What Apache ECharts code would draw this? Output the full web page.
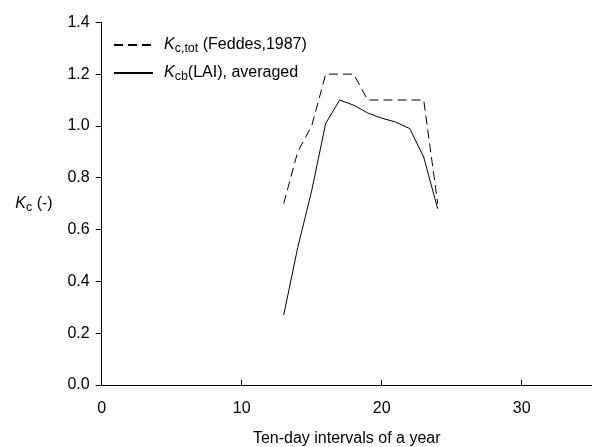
<!DOCTYPE html>
<html><head><meta charset="utf-8">
<script src="https://cdn.jsdelivr.net/npm/echarts@6/dist/echarts.min.js"></script>
<style>html,body{margin:0;padding:0;background:#fff}#c{width:592px;height:447px}</style>
</head><body><div id="c"></div>
<script>
const intervals = [13,14,15,16,17,18,19,20,21,22,23,24];
const kcTot = [0.70,0.90,1.00,1.20,1.20,1.20,1.10,1.10,1.10,1.10,1.10,0.70];
const kcbLai = [0.27,0.53,0.75,1.01,1.10,1.08,1.05,1.03,1.015,0.99,0.88,0.68];
const yTicks = [0,0.2,0.4,0.6,0.8,1.0,1.2,1.4];
const xTicks = [0,10,20,30];

const font = 'Liberation Sans, Arial, sans-serif';
const FS = 16;
const rich = {
  k: {fontStyle:'italic', fontSize:FS, fontFamily:font, color:'#000'},
  s: {fontSize:12.5, fontFamily:font, color:'#000', verticalAlign:'bottom', padding:[7,0,0,0]},
  t: {fontSize:FS, fontFamily:font, color:'#000'}
};
const chart = echarts.init(document.getElementById('c'));
chart.setOption({
  animation:false,
  grid:{left:101.7, right:0.3, top:22.3, bottom:62, outerBoundsMode:'none', containLabel:false},
  legend:{
    orient:'vertical', left:113, top:37, padding:0, itemGap:10,
    itemWidth:39, itemHeight:16,
    itemStyle:{opacity:0},
    data:[{name:'tot'},{name:'cb'}],
    formatter: n => n==='tot' ? '{k|K}{s|c,tot}{t| (Feddes,1987)}' : '{k|K}{s|cb}{t|(LAI), averaged}',
    textStyle:{rich:rich, fontFamily:font, fontSize:FS, color:'#000', padding:[0,0,0,6]}
  },
  xAxis:{
    type:'value', min:0, max:35, interval:10,
    name:'Ten-day intervals of a year', nameLocation:'middle', nameGap:46,
    nameTextStyle:{fontFamily:font, fontSize:FS, color:'#000'},
    axisLine:{lineStyle:{color:'#000', width:1}},
    axisTick:{inside:true, length:5, customValues:xTicks, lineStyle:{color:'#000'}},
    axisLabel:{fontFamily:font, fontSize:FS, color:'#000', margin:16, customValues:xTicks},
    splitLine:{show:false}
  },
  yAxis:{
    type:'value', min:0, max:1.4, interval:0.2,
    name:'{k|K}{s|c}{t| (-)}', nameLocation:'middle', nameGap:49, nameRotate:0,
    nameTextStyle:{rich:rich},
    axisLine:{show:true, lineStyle:{color:'#000', width:1}},
    axisTick:{show:true, length:6, lineStyle:{color:'#000'}},
    axisLabel:{fontFamily:font, fontSize:FS, color:'#000', margin:12,
      formatter: v => yTicks.some(t=>Math.abs(t-v)<1e-9) ? v.toFixed(1) : ''},
    splitLine:{show:false}
  },
  series:[
    {name:'tot', type:'line', symbol:'none', data:intervals.map((x,i)=>[x,kcTot[i]]),
     lineStyle:{color:'#000', width:1, type:[9,5]}, itemStyle:{color:'#000'}},
    {name:'cb', type:'line', symbol:'none', data:intervals.map((x,i)=>[x,kcbLai[i]]),
     lineStyle:{color:'#000', width:1}, itemStyle:{color:'#000'}}
  ]
});
</script></body></html>
